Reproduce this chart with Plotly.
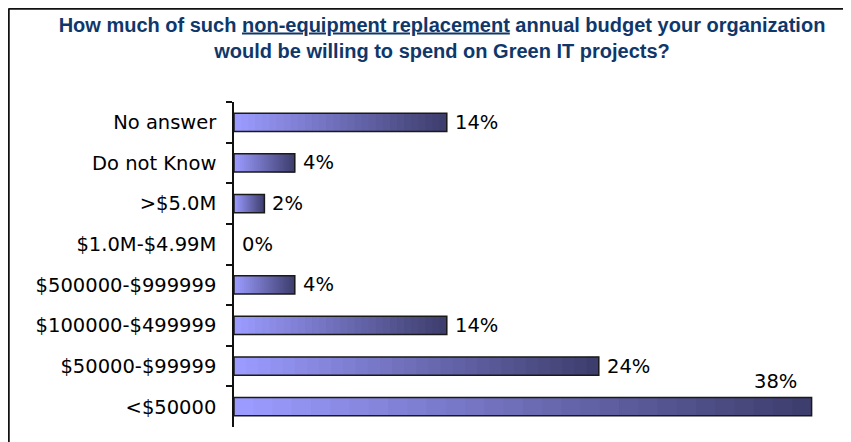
import plotly.graph_objects as go

categories = ["No answer", "Do not Know", ">$5.0M", "$1.0M-$4.99M",
              "$500000-$999999", "$100000-$499999", "$50000-$99999", "<$50000"]
values = [14, 4, 2, 0, 4, 14, 24, 38]
value_labels = ["14%", "4%", "2%", "0%", "4%", "14%", "24%", "38%"]
title_text = ("How much of such <u>non-equipment replacement</u> annual budget your organization"
              "<br>would be willing to spend on Green IT projects?")

N = 30
c0 = (155, 155, 255)
c1 = (62, 62, 110)

fig = go.Figure()
for i in range(N):
    t = i / (N - 1)
    col = "rgb(%d,%d,%d)" % tuple(round(a + (b - a) * t) for a, b in zip(c0, c1))
    fig.add_trace(go.Bar(
        y=categories, x=[v * (N - i) / N for v in values],
        base=[v * i / N for v in values], orientation="h",
        marker=dict(color=col, line=dict(width=0)), hoverinfo="skip", showlegend=False))

fig.add_trace(go.Bar(
    y=categories, x=[v if v > 0 else None for v in values], orientation="h",
    marker=dict(color="rgba(0,0,0,0)", line=dict(color="#1a1a1a", width=1.5)),
    showlegend=False))

xmax = 40
lab_font = dict(family="DejaVu Sans", size=19.5, color="#000")
for cat, v, lab in zip(categories, values, value_labels):
    if v >= 36:
        fig.add_annotation(x=v, y=cat, text=lab, showarrow=False, xanchor="right",
                           xshift=-13, yshift=25, font=lab_font)
    else:
        fig.add_annotation(x=v, y=cat, text=lab, showarrow=False, xanchor="left",
                           xshift=6, font=lab_font)

# plot area in figure pixel coords (page has an 8px body offset)
FW, FH = 851, 442
L, R, T, B = 226, 834, 94, 419
W, H = R - L, B - T
def px_x(p): return (p - L) / W
def px_y(p): return (B - p) / H

# frame (decoration)
fig.add_shape(type="line", xref="paper", yref="paper",
              x0=px_x(0.5), x1=px_x(FW + 10), y0=px_y(0.5), y1=px_y(0.5),
              line=dict(color="#111", width=2.5))
fig.add_shape(type="line", xref="paper", yref="paper",
              x0=px_x(0.5), x1=px_x(0.5), y0=px_y(0.5), y1=px_y(FH + 10),
              line=dict(color="#111", width=2.5))

fig.update_layout(
    width=FW, height=FH,
    margin=dict(l=L, r=FW - R, t=T, b=FH - B, autoexpand=False),
    paper_bgcolor="white", plot_bgcolor="white",
    barmode="overlay", bargap=0.55,
    title=dict(text=title_text, xref="container", x=434 / FW, xanchor="center",
               yref="container", y=1 - 23.5 / FH, yanchor="middle",
               font=dict(family="Liberation Sans", size=20, color="#10376a", weight="bold")),
    xaxis=dict(range=[0, xmax], visible=False, fixedrange=True),
    yaxis=dict(categoryorder="array", categoryarray=categories,
               range=[len(categories) - 0.5, -0.5], autorange=False,
               showline=True, linecolor="#111", linewidth=1.5,
               ticks="outside", ticklen=6, tickcolor="#111", tickwidth=1.5,
               tickson="boundaries", ticklabelstandoff=12, showgrid=False,
               automargin=False, tickfont=lab_font),
)
fig.write_html("out.html")
